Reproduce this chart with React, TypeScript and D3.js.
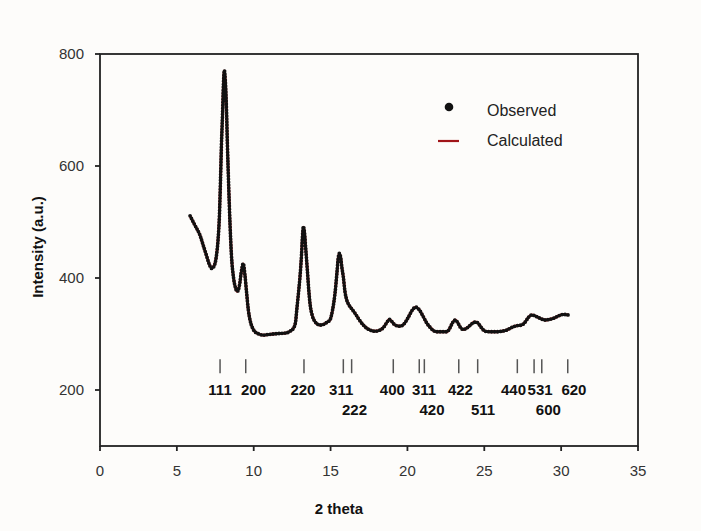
import React from "react";
import * as d3 from "d3";

const twoTheta = [
  5.86, 6.18, 6.51, 6.72, 6.94, 7.09, 7.27, 7.42, 7.58, 7.68, 7.77, 7.84, 7.9, 7.97, 8.03, 8.09,
  8.15, 8.23, 8.29, 8.37, 8.46, 8.55, 8.69, 8.82, 8.93, 9.08, 9.21, 9.32, 9.43, 9.54, 9.65, 9.76,
  9.92, 10.08, 10.34, 10.62, 10.93, 11.27, 11.71, 12.15, 12.36, 12.58, 12.72, 12.8, 12.9, 13.01,
  13.11, 13.17, 13.23, 13.3, 13.38, 13.49, 13.58, 13.66, 13.82, 13.99, 14.18, 14.31, 14.53, 14.77,
  14.96, 15.13, 15.29, 15.42, 15.5, 15.57, 15.65, 15.74, 15.83, 15.94, 16.05, 16.17, 16.26, 16.43,
  16.59, 16.85, 17.13, 17.37, 17.57, 17.89, 18.22, 18.48, 18.67, 18.82, 19.0, 19.19, 19.52, 19.78,
  20.04, 20.3, 20.54, 20.75, 21.03, 21.27, 21.47, 21.7, 21.9, 22.18, 22.56, 22.77, 22.93, 23.1,
  23.26, 23.42, 23.63, 23.88, 24.14, 24.33, 24.51, 24.69, 24.85, 25.05, 25.37, 25.81, 26.15, 26.46,
  26.67, 26.89, 27.16, 27.43, 27.65, 27.88, 28.09, 28.24, 28.41, 28.63, 28.95, 29.21, 29.49, 29.8,
  30.14, 30.47,
];

const observed = [
  511, 494, 476, 458, 439, 426, 417, 421, 441, 468, 512, 575, 637, 691, 745, 771,
  754, 700, 637, 566, 495, 441, 400, 382, 376, 388, 414, 426, 405, 373, 343, 325,
  311, 304, 300, 298, 299, 300, 301, 302, 305, 310, 321, 343, 370, 402,
  441, 473, 492, 482, 454, 414, 379, 355, 332, 322, 317, 316, 317, 321,
  325, 343, 373, 411, 436, 444, 438, 418, 402, 375, 361, 353, 349, 343,
  337, 326, 316, 310, 307, 305, 307, 313, 321, 326, 322, 316, 314, 318,
  329, 342, 348, 344, 331, 319, 312, 306, 304, 304, 304, 311, 320, 325,
  321, 313, 308, 311, 317, 321, 321, 316, 310, 305, 304, 304, 305, 307,
  310, 313, 315, 316, 321, 330, 334, 333, 331, 328, 325, 326, 328, 332,
  335, 334,
];

const calculated = [
  511, 494, 476, 458, 439, 426, 418, 422, 441, 468, 512, 575, 637, 691, 745, 770,
  754, 700, 637, 566, 495, 441, 400, 382, 376, 388, 414, 425, 405, 373, 343, 325,
  311, 304, 300, 298, 299, 300, 301, 302, 305, 310, 321, 343, 370, 402,
  441, 473, 491, 482, 454, 414, 379, 355, 332, 322, 317, 316, 317, 321,
  325, 343, 373, 411, 436, 443, 438, 418, 402, 375, 361, 353, 349, 343,
  337, 326, 316, 310, 307, 305, 307, 313, 321, 326, 322, 316, 314, 318,
  329, 342, 348, 344, 331, 319, 312, 306, 304, 304, 304, 311, 320, 325,
  321, 313, 308, 311, 317, 321, 321, 316, 310, 305, 304, 304, 305, 307,
  310, 313, 315, 316, 321, 330, 334, 333, 331, 328, 325, 326, 328, 332,
  335, 334,
];

const reflectionTicks = [7.81, 9.48, 13.27, 15.83, 16.37, 19.08, 20.77, 21.1, 23.34, 24.57, 27.15, 28.24, 28.74, 30.43];
const reflectionLabels = ["111", "200", "220", "311", "222", "400", "311", "420", "422", "511", "440", "531", "600", "620"];
const labelCenters = [7.81, 9.99, 13.2, 15.69, 16.56, 19.02, 21.08, 21.6, 23.45, 24.92, 26.9, 28.63, 29.17, 30.83];
const labelRows = [0, 0, 0, 0, 1, 0, 0, 1, 0, 1, 0, 0, 1, 0];

const xTicks = [0, 5, 10, 15, 20, 25, 30, 35];
const yTicks = [200, 400, 600, 800];

const W = 701;
const H = 531;
const left = 100;
const right = 638;
const top = 54;
const bottom = 446;

export default function App() {
  const x = d3.scaleLinear().domain([0, 35]).range([left, right]);
  const y = d3.scaleLinear().domain([100, 800]).range([bottom, top]);

  const lineGen = d3
    .line<number>()
    .x((_, i) => x(twoTheta[i]))
    .y((d) => y(d))
    .curve(d3.curveMonotoneX);

  const font = "'Liberation Sans', Arial, Helvetica, sans-serif";

  return (
    <svg
      width={W}
      height={H}
      style={{ position: "absolute", left: 0, top: 0, background: "#fdfcfa" }}
    >
      <rect x={0} y={0} width={W} height={H} fill="#fdfcfa" />
      {/* frame */}
      <rect x={left} y={top} width={right - left} height={bottom - top} fill="none" stroke="#222" strokeWidth={1.8} />
      {/* y ticks */}
      {yTicks.map((t) => (
        <g key={"y" + t}>
          <line x1={left - 5} x2={left} y1={y(t)} y2={y(t)} stroke="#222" strokeWidth={1.8} />
          <text x={84} y={y(t) + 5} textAnchor="end" fontFamily={font} fontSize={15} fill="#333">
            {t}
          </text>
        </g>
      ))}
      {/* x ticks */}
      {xTicks.map((t) => (
        <g key={"x" + t}>
          <line x1={x(t)} x2={x(t)} y1={bottom} y2={bottom + 5} stroke="#222" strokeWidth={1.8} />
          <text x={x(t)} y={476} textAnchor="middle" fontFamily={font} fontSize={15} fill="#333">
            {t}
          </text>
        </g>
      ))}
      {/* axis titles */}
      <text
        transform={`translate(43, 247) rotate(-90)`}
        textAnchor="middle"
        fontFamily={font}
        fontSize={15}
        fontWeight="bold"
        fill="#111"
      >
        Intensity (a.u.)
      </text>
      <text x={339} y={514} textAnchor="middle" fontFamily={font} fontSize={15} fontWeight="bold" fill="#111">
        2 theta
      </text>

      {/* reflection ticks */}
      {reflectionTicks.map((t, i) => (
        <line key={"r" + i} x1={x(t)} x2={x(t)} y1={y(255)} y2={y(230)} stroke="#555" strokeWidth={1.5} />
      ))}
      {reflectionLabels.map((lab, i) => (
        <text
          key={"l" + i}
          x={x(labelCenters[i])}
          y={labelRows[i] === 0 ? 395 : 415}
          textAnchor="middle"
          fontFamily={font}
          fontSize={15}
          fontWeight="bold"
          fill="#111"
        >
          {lab}
        </text>
      ))}

      {/* calculated */}
      <path d={lineGen(calculated) as string} fill="none" stroke="#b5161c" strokeWidth={2.8} />
      {/* observed as dots along the curve */}
      <path
        d={lineGen(observed) as string}
        fill="none"
        stroke="#111"
        strokeWidth={3.8}
        strokeLinecap="round"
        strokeDasharray="0 3"
      />

      {/* legend */}
      <circle cx={449} cy={107} r={4.3} fill="#111" />
      <text x={487} y={116} fontFamily={font} fontSize={16} fill="#222">
        Observed
      </text>
      <line x1={438} x2={459} y1={141} y2={141} stroke="#a01418" strokeWidth={2.2} />
      <text x={487} y={146} fontFamily={font} fontSize={16} fill="#222">
        Calculated
      </text>
    </svg>
  );
}
